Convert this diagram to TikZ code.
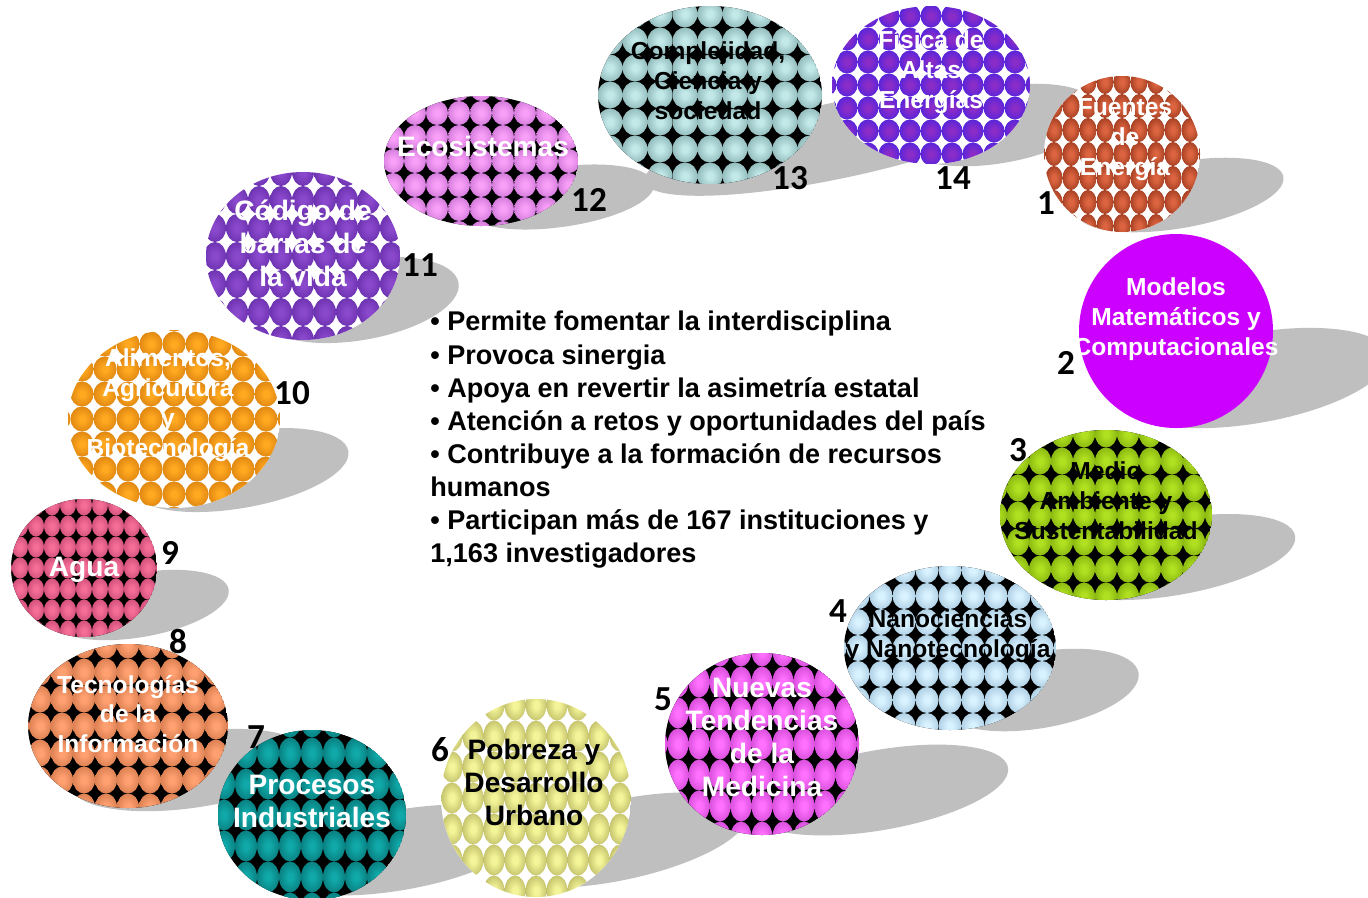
\documentclass[tikz,border=0pt]{standalone}
\usepackage{fontspec}
\setmainfont{Liberation Sans}
\newfontfamily\numfont{Carlito}
\usepackage{xcolor}
\usetikzlibrary{positioning}
\definecolor{Shadow}{HTML}{BFBFBF}
\definecolor{Modelos}{HTML}{CC00FF}
\definecolor{FuentesIn}{HTML}{DC6440}
\definecolor{FuentesOut}{HTML}{641600}
\definecolor{MedioIn}{HTML}{B0E020}
\definecolor{MedioOut}{HTML}{5E8A00}
\definecolor{NanoIn}{HTML}{D8F2FF}
\definecolor{NanoOut}{HTML}{7FA6C4}
\definecolor{NuevasIn}{HTML}{FF70FF}
\definecolor{NuevasOut}{HTML}{A828B0}
\definecolor{PobrezaIn}{HTML}{F4F498}
\definecolor{PobrezaOut}{HTML}{8C8A3A}
\definecolor{ProcesosIn}{HTML}{10A8A8}
\definecolor{ProcesosOut}{HTML}{004E50}
\definecolor{TecnoIn}{HTML}{FFA070}
\definecolor{TecnoOut}{HTML}{B05A30}
\definecolor{AguaIn}{HTML}{F56E98}
\definecolor{AguaOut}{HTML}{A83058}
\definecolor{AlimentosIn}{HTML}{FFA820}
\definecolor{AlimentosOut}{HTML}{B86000}
\definecolor{CodigoIn}{HTML}{8A48CC}
\definecolor{CodigoOut}{HTML}{4A1A90}
\definecolor{EcoIn}{HTML}{F8A0F8}
\definecolor{EcoOut}{HTML}{A850B8}
\definecolor{CompleIn}{HTML}{C2E8E8}
\definecolor{CompleOut}{HTML}{5A8686}
\definecolor{FisicaIn}{HTML}{8A2CC8}
\definecolor{FisicaOut}{HTML}{1C1CF0}
\colorlet{BallIn}{white}
\colorlet{BallOut}{black}
\pgfdeclareradialshading[BallIn,BallOut]{orb}{\pgfpoint{0bp}{0bp}}{color(0bp)=(BallIn); color(6bp)=(BallIn); color(50bp)=(BallOut)}
\newcommand{\orbs}[8]{% cx, cy, rx, ry, colour, ground, dx, dy
  \begin{scope}
    \clip (#1,#2) ellipse ({#3} and {#4});
    \fill[#6] (#1,#2) ellipse ({#3} and {#4});
    \colorlet{BallIn}{#5In}\colorlet{BallOut}{#5Out}
    \pgfmathtruncatemacro{\nx}{#3/#7+1}
    \pgfmathtruncatemacro{\ny}{#4/#8+1}
    \foreach \i in {-\nx,...,\nx}
      \foreach \j in {-\ny,...,\ny}
        \shade[shading=orb] ({#1+\i*#7},{#2+\j*#8}) ellipse ({#7/2} and {#8/2});
  \end{scope}
}
\newcommand{\shadowblob}[5]{
  \fill[Shadow, rotate around={#5:(#1,#2)}] (#1,#2) ellipse ({#3} and {#4});
}
\tikzset{
  tag/.style={align=center, inner sep=0pt, font=\bfseries\fontsize{14}{17}\selectfont},
  tagbig/.style={tag, font=\bfseries\fontsize{16}{18.8}\selectfont},
  num/.style={inner sep=0pt, font=\numfont\bfseries\fontsize{20}{20}\selectfont}
}

\begin{document}
\begin{tikzpicture}[x=0.02cm, y=-0.02cm]
  \useasboundingbox (0,0) rectangle (1368,897);
  % shadows
  \shadowblob{1180}{195}{105}{33}{10}
  \shadowblob{1255}{378}{135}{45}{10}
  \shadowblob{1175}{557}{122}{38}{10}
  \shadowblob{1040}{690}{100}{38}{10}
  \shadowblob{880}{790}{130}{40}{10}
  \shadowblob{620}{840}{130}{40}{12}
  \shadowblob{400}{850}{130}{40}{10}
  \shadowblob{190}{770}{120}{38}{8}
  \shadowblob{140}{605}{90}{32}{10}
  \shadowblob{240}{470}{110}{38}{10}
  \shadowblob{360}{300}{100}{40}{10}
  \shadowblob{560}{197}{95}{30}{8}
  \shadowblob{840}{140}{200}{38}{12}
  \shadowblob{1000}{125}{100}{38}{10}
  % topics
  \orbs{1122}{154}{78}{78}{Fuentes}{white}{17}{24}
  \fill[Modelos] (1176,331) ellipse (97 and 97);
  \orbs{1106}{515}{106}{85}{Medio}{black}{22}{27}
  \orbs{950}{648}{106}{82}{Nano}{black}{23}{26}
  \orbs{762}{744}{97}{91}{Nuevas}{black}{21}{31}
  \orbs{536}{798}{95}{99}{Pobreza}{white}{21}{31}
  \orbs{312}{815}{94}{85}{Procesos}{black}{22}{31}
  \orbs{128}{726}{100}{82}{Tecno}{black}{22}{27}
  \orbs{84}{568}{73}{69}{Agua}{black}{16}{21}
  \orbs{174}{419}{106}{89}{Alimentos}{white}{23}{25}
  \orbs{303}{256}{97}{84}{Codigo}{white}{22}{28}
  \orbs{481}{161}{97}{65}{Eco}{black}{22}{24}
  \orbs{710}{95}{112}{89}{Comple}{black}{25}{27}
  \orbs{931}{85}{99}{79}{Fisica}{white}{21}{23}
  % labels
  \node[tag, white] (fuentes) at (1125,140) {Fuentes\\de\\Energía};
  \node[tag, white] (modelos) at (1176,319) {Modelos\\Matemáticos y\\Computacionales};
  \node[tag] (medio) at (1106,501) {Medio\\Ambiente y\\Sustentabilidad};
  \node[tag] (nano) at (948,636) {Nanociencias\\y Nanotecnología};
  \node[tagbig, white] (nuevas) at (762,737) {Nuevas\\Tendencias\\de la\\Medicina};
  \node[tagbig] (pobreza) at (534,782) {Pobreza y\\Desarrollo\\Urbano};
  \node[tagbig, white] (procesos) at (312,801) {Procesos\\Industriales};
  \node[tag, white] (tecno) at (128,714) {Tecnologías\\de la\\Información};
  \node[tagbig, white] (agua) at (84,570) {Agua};
  \node[tag, white] (alimentos) at (168,405) {Alimentos,\\Agricultura\\y\\Biotecnología};
  \node[tagbig, white] (codigo) at (303,243) {Código de\\barras de\\la vida};
  \node[tagbig, white] (eco) at (483,146) {Ecosistemas};
  \node[tag] (comple) at (708,81) {Complejidad,\\Ciencia y\\sociedad};
  \node[tag, white] (fisica) at (931,72) {Física de\\Altas\\Energías};
  % numbers
  \foreach \n/\x/\y in {1/1046/203, 2/1066/363, 3/1018/450, 4/838/611, 5/663/699,
      6/440/750, 7/256/737, 8/178/641, 9/170/553, 10/292/393, 11/420/265,
      12/589/200, 13/790/178, 14/953/178}
    \node[num] (n\n) at (\x,\y) {\n};
  % centre list
  \node[anchor=north west, align=left, inner sep=0pt,
        font=\bfseries\fontsize{15.4}{18.8}\selectfont] (lista) at (430,311)
    {• Permite fomentar la interdisciplina\\
     • Provoca sinergia\\
     • Apoya en revertir la asimetría estatal\\
     • Atención a retos y oportunidades del país\\
     • Contribuye a la formación de recursos\\
     humanos\\
     • Participan más de 167 instituciones y\\
     1,163 investigadores};
\end{tikzpicture}
\end{document}
